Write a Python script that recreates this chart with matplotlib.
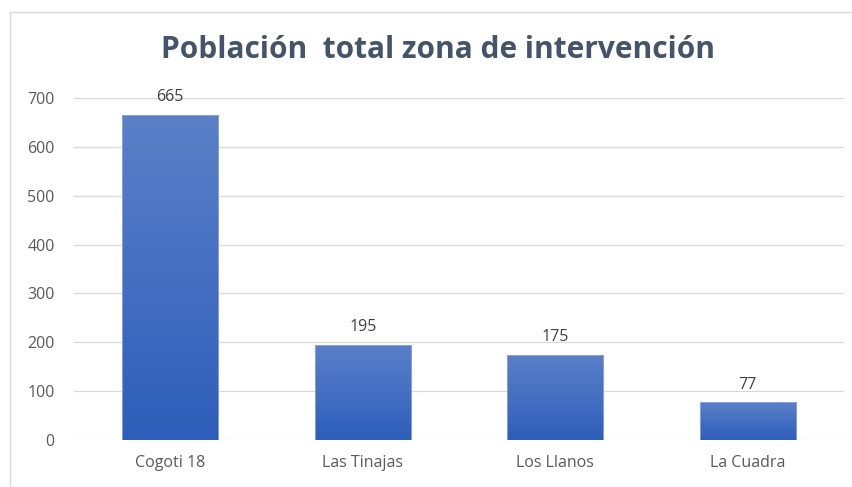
import numpy as np
import matplotlib
matplotlib.use('Agg')
import matplotlib.pyplot as plt
from matplotlib.patches import Rectangle
from matplotlib.colors import LinearSegmentedColormap

categorias = ['Cogoti 18', 'Las Tinajas', 'Los Llanos', 'La Cuadra']
poblacion = [665, 195, 175, 77]
yticks = [0, 100, 200, 300, 400, 500, 600, 700]
titulo = 'Población  total zona de intervención'

plt.rcParams['font.family'] = ['Open Sans', 'DejaVu Sans']

fig = plt.figure(figsize=(8.53, 4.87), dpi=100)
ax = fig.add_axes([74/853, 1-440/487, 770/853, 342/487])

# borde del grafico
borde = Rectangle((10/853, -0.1), 1.2, 1-12/487+0.1, transform=fig.transFigure,
                  fill=False, edgecolor='#D9D9D9', linewidth=1.0)
fig.patches.append(borde)

x = np.arange(len(categorias))
barras = ax.bar(x, poblacion, width=0.5, color='none', edgecolor='#8FAADC', linewidth=0.6, zorder=3)

# degradado en las barras
cmap = LinearSegmentedColormap.from_list('azul', ['#2E5EBA', '#5B80C8'])
grad = np.linspace(0, 1, 256).reshape(-1, 1)
for b in barras:
    x0, y0 = b.get_x(), b.get_y()
    w, h = b.get_width(), b.get_height()
    im = ax.imshow(grad, cmap=cmap, aspect='auto', origin='lower',
                   extent=[x0, x0 + w, y0, y0 + h], zorder=2)
    im.set_clip_path(b)

for xi, v in zip(x, poblacion):
    ax.annotate(str(v), (xi, v), xytext=(0, 7), textcoords='offset points',
                ha='center', va='bottom', fontsize=11.5, color='#404040')

ax.set_xlim(-0.5, len(categorias) - 0.5)
ax.set_ylim(0, 700)
ax.set_yticks(yticks)
ax.set_xticks(x)
ax.set_xticklabels(categorias)
ax.grid(axis='y', color='#D9D9D9', linewidth=0.9, zorder=0)
ax.set_axisbelow(True)
for s in ax.spines.values():
    s.set_visible(False)
ax.tick_params(axis='both', length=0, labelsize=11.5, labelcolor='#595959')
ax.tick_params(axis='y', pad=14)
ax.tick_params(axis='x', pad=11)

fig.text(438/853, 1-50/487, titulo, ha='center', va='center', fontsize=21.5,
         fontweight='bold', color='#44546A')

fig.savefig('out.png', dpi=100)
